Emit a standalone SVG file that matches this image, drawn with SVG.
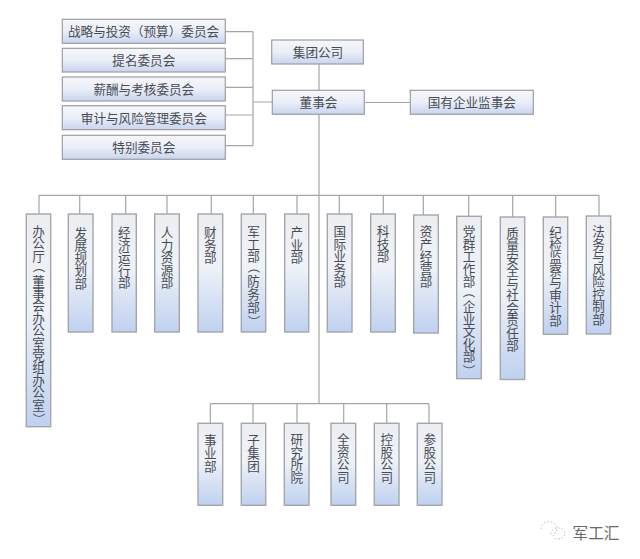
<svg xmlns="http://www.w3.org/2000/svg" width="640" height="559" viewBox="0 0 640 559">
<style>
.h{fill:url(#gh);stroke:#9a9fa6;stroke-width:1.2}
.v{fill:url(#gv);stroke:#a3a7ab;stroke-width:1.4}
text{font-family:"Noto Sans CJK SC","Liberation Sans",sans-serif;font-size:12.6px;fill:#484d54;font-kerning:none;text-spacing-trim:space-all}
.t{text-anchor:middle}
#conn path{fill:none;stroke:#a3a5a8;stroke-width:1.2}
</style>
<defs>
<linearGradient id="gh" x1="0" y1="0" x2="0" y2="1"><stop offset="0" stop-color="#f6f7fa"/><stop offset=".5" stop-color="#eaeef7"/><stop offset="1" stop-color="#c9d4ee"/></linearGradient>
<linearGradient id="gv" x1="0" y1="0" x2="0" y2="1"><stop offset="0" stop-color="#eceef1"/><stop offset=".45" stop-color="#eff2f8"/><stop offset="1" stop-color="#bfd1f0"/></linearGradient>
</defs>
<rect width="640" height="559" fill="#fff"/>
<g id="conn">
<path d="M225.3 31.7H253M225.3 58.7H253M225.3 87.3H253M225.3 115H253M225.3 145.7H253M253 31.7V145.7M253 102H272.3"/>
<path d="M319 64V90.3M319 114.3V403.7M364.3 102.5H410.3"/>
<path d="M39 195.3H599M39 195.3V214M79.7 195.3V214M125.7 195.3V214M167 195.3V214M211.3 195.3V214M253.3 195.3V214M297 195.3V214M339.3 195.3V214M383.3 195.3V214M423.3 195.3V215M468.7 195.3V216M512.7 195.3V217M555.7 195.3V217M599 195.3V216"/>
<path d="M210.3 403.7H429M210.3 403.7V423.3M253 403.7V423.3M297 403.7V423.3M343.7 403.7V423.3M386.7 403.7V423.3M429 403.7V423.3"/>
</g>
<g id="n1"><rect class="h" x="62.3" y="19.3" width="163" height="24"/><text class="t" x="143.5" y="36">战略与投资（预算）委员会</text></g>
<g id="n2"><rect class="h" x="62.3" y="48.3" width="163" height="23.7"/><text class="t" x="143.8" y="65">提名委员会</text></g>
<g id="n3"><rect class="h" x="62.3" y="77" width="163" height="24"/><text class="t" x="143.8" y="94">薪酬与考核委员会</text></g>
<g id="n4"><rect class="h" x="62.3" y="105.7" width="163" height="24"/><text class="t" x="143.8" y="122.5">审计与风险管理委员会</text></g>
<g id="n5"><rect class="h" x="62.3" y="135.3" width="163" height="24"/><text class="t" x="143.8" y="152">特别委员会</text></g>
<g id="n6"><rect class="h" x="271.7" y="40" width="91.6" height="24"/><text class="t" x="318" y="57">集团公司</text></g>
<g id="n7"><rect class="h" x="272.3" y="90.3" width="92" height="24"/><text class="t" x="318.5" y="107.3">董事会</text></g>
<g id="n8"><rect class="h" x="410.3" y="90.3" width="123" height="24"/><text class="t" x="471.8" y="107.3">国有企业监事会</text></g>
<g id="d1"><rect class="v" x="26.3" y="214" width="24.4" height="212.7"/><text x="32.2 32.2 32.2 33.7 32.2 32.2 32.2 32.2 32.2 32.2 32.2 32.2 32.2 32.2 32.2 33.7" y="236 248.4 260.8 260.2 285.6 298 310.4 322.8 335.2 347.6 360 372.4 384.8 397.2 409.6 413" rotate="0 0 0 90 0 0 0 0 0 0 0 0 0 0 0 90">办公厅（董事会办公室党组办公室）</text></g>
<g id="d2"><rect class="v" x="68.3" y="214" width="24.7" height="118"/><text x="74.4 74.4 74.4 74.4 74.4" y="237.5 250.1 262.7 275.3 287.9">发展规划部</text></g>
<g id="d3"><rect class="v" x="112" y="214" width="24.3" height="118"/><text x="117.9 117.9 117.9 117.9 117.9" y="237 249.6 262.2 274.8 287.4">经济运行部</text></g>
<g id="d4"><rect class="v" x="154.7" y="214" width="24.6" height="118"/><text x="160.7 160.7 160.7 160.7 160.7" y="237 249.6 262.2 274.8 287.4">人力资源部</text></g>
<g id="d5"><rect class="v" x="198" y="214" width="24.7" height="118"/><text x="204 204 204" y="237 249.6 262.2">财务部</text></g>
<g id="d6"><rect class="v" x="241.3" y="214" width="24.4" height="118"/><text x="247.2 247.2 247.2 248.7 247.2 247.2 247.2 248.7" y="236 248.6 261.2 260.8 286.4 299 311.6 315.2" rotate="0 0 0 90 0 0 0 90">军工部（防务部）</text></g>
<g id="d7"><rect class="v" x="284.7" y="214" width="24" height="118"/><text x="290.4 290.4 290.4" y="237 249.6 262.2">产业部</text></g>
<g id="d8"><rect class="v" x="327.3" y="214" width="24.7" height="118"/><text x="333.4 333.4 333.4 333.4 333.4" y="236 248.6 261.2 273.8 286.4">国际业务部</text></g>
<g id="d9"><rect class="v" x="370.7" y="214" width="24.6" height="118"/><text x="376.7 376.7 376.7" y="236 248.6 261.2">科技部</text></g>
<g id="d10"><rect class="v" x="413.7" y="215" width="24.6" height="118"/><text x="419.7 419.7 419.7 419.7 419.7" y="236 248.6 261.2 273.8 286.4">资产经营部</text></g>
<g id="d11"><rect class="v" x="456.7" y="216.3" width="24.6" height="162.4"/><text x="462.7 462.7 462.7 462.7 462.7 464.2 462.7 462.7 462.7 462.7 462.7 464.2" y="236 248.5 261 273.5 286 285.5 311 323.5 336 348.5 361 364.5" rotate="0 0 0 0 0 90 0 0 0 0 0 90">党群工作部（企业文化部）</text></g>
<g id="d12"><rect class="v" x="500.3" y="217" width="24.4" height="162.5"/><text x="506.2 506.2 506.2 506.2 506.2 506.2 506.2 506.2 506.2 506.2" y="237.5 250 262.5 275 287.5 300 312.5 325 337.5 350">质量安全与社会责任部</text></g>
<g id="d13"><rect class="v" x="543.3" y="217" width="24.4" height="117.3"/><text x="549.2 549.2 549.2 549.2 549.2 549.2 549.2 549.2" y="237 249.5 262 274.5 287 299.5 312 324.5">纪检监察与审计部</text></g>
<g id="d14"><rect class="v" x="586.3" y="216" width="24.4" height="118"/><text x="592.2 592.2 592.2 592.2 592.2 592.2 592.2 592.2" y="236 248.5 261 273.5 286 298.5 311 323.5">法务与风险控制部</text></g>
<g id="b1"><rect class="v" x="198" y="423.3" width="24.7" height="82"/><text x="204 204 204" y="445 458 471">事业部</text></g>
<g id="b2"><rect class="v" x="241.3" y="423.3" width="24.4" height="82"/><text x="247.2 247.2 247.2" y="445 458 471">子集团</text></g>
<g id="b3"><rect class="v" x="284.3" y="423.3" width="24.7" height="82"/><text x="290.4 290.4 290.4 290.4" y="444 456.5 469 481.5">研究所院</text></g>
<g id="b4"><rect class="v" x="331" y="423.3" width="24.7" height="82"/><text x="337 337 337 337" y="444 456.5 469 481.5">全资公司</text></g>
<g id="b5"><rect class="v" x="374.3" y="423.3" width="24.7" height="82"/><text x="380.4 380.4 380.4 380.4" y="444 456.5 469 481.5">控股公司</text></g>
<g id="b6"><rect class="v" x="417.3" y="423.3" width="24.7" height="82"/><text x="423.4 423.4 423.4 423.4" y="444 456.5 469 481.5">参股公司</text></g>
<g id="mark">
<path d="M541 529a8 7 0 1 1 13 5l-1 2M551 534a7 5.5 0 1 1 3 4" fill="none" stroke="#b5b5b5" stroke-width="1" stroke-dasharray="1.5 2"/>
<text x="572.5" y="538.5" style="font-size:15.7px;fill:#6a6a6a">军工汇</text>
</g>
</svg>
